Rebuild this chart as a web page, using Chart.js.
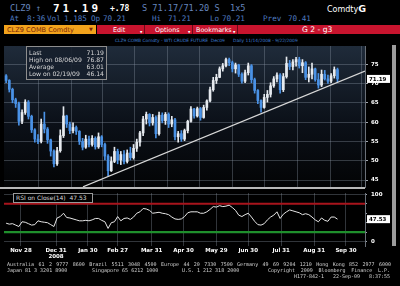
<!DOCTYPE html>
<html>
<head>
<meta charset="utf-8">
<title>CLZ9 COMB Comdty</title>
<script src="https://cdn.jsdelivr.net/npm/chart.js@4.4.1/dist/chart.umd.min.js"></script>
<style>
  html, body { margin: 0; padding: 0; background: #000; }
  body { width: 400px; height: 286px; position: relative; overflow: hidden; font-family: "DejaVu Sans", sans-serif; }
  .t { position: absolute; white-space: pre; line-height: 1; }
  .mono { font-family: "DejaVu Sans Mono", monospace; }
  .hd { color: #6585bd; font-size: 8.6px; top: 4px; }
  .hd2 { color: #4f7cc0; font-size: 7.6px; top: 14.5px; }
  canvas { position: absolute; left: 0; }
  #tab { position: absolute; left: 4px; top: 25px; width: 92px; height: 9px; background: #f2a31c; }
  #bar { position: absolute; left: 97px; top: 25px; width: 303px; height: 9px; background: #c8142e; }
  .btn { color: #fff; font-size: 6.4px; top: 26.5px; }
  .sep { position: absolute; top: 25px; width: 1px; height: 9px; background: #6a0a18; }
  .sub { color: #3f7fd2; font-size: 4.4px; top: 39px; }
  #stats { position: absolute; left: 26px; top: 46px; width: 79px; height: 32px; border: 1px solid #8e8e8e; background: rgba(22,31,44,0.9); }
  #stats div { position: absolute; left: 2px; right: 2px; height: 7px; font-size: 6.1px; color: #d8d8d8; line-height: 7px; }
  #stats span { position: absolute; right: 0; }
  #rsiBox { position: absolute; left: 13px; top: 193px; width: 76px; height: 8px; border: 1px solid #9a9a9a; background: #000; color: #d8d8d8; font-size: 6px; line-height: 8px; padding-left: 2px; white-space: pre; }
  #frame { position: absolute; left: 392px; top: 45px; width: 4px; height: 201px; background: #9c9c9c; }
  #split { position: absolute; left: 0; top: 187px; width: 365px; height: 2px; background: #b9b9b9; }
  .ft { color: #d2d2d2; font-size: 5px; }
  .just { white-space: normal; text-align: justify; text-align-last: justify; }
</style>
</head>
<body>

<div class="t mono hd" style="left:10px">CLZ9 ↑</div>
<div class="t mono" style="left:53px;top:3px;font-size:11px;font-weight:bold;letter-spacing:3px;color:#fff">71.19</div>
<div class="t mono" style="left:110px;top:4.5px;font-size:8px;font-weight:bold;color:#fff">+.78</div>
<div class="t mono hd" style="left:142px">S 71.17/71.20 S  1x5</div>
<div class="t" style="left:327px;top:4px;font-size:8px;color:#fff">Comdty<b style="font-size:9.5px">G</b></div>

<div class="t mono hd2" style="left:10px">At</div>
<div class="t mono hd2" style="left:27px">8:36</div>
<div class="t mono hd2" style="left:47px">Vol</div>
<div class="t mono hd2" style="left:64px">1,185</div>
<div class="t mono hd2" style="left:91px">Op</div>
<div class="t mono hd2" style="left:103px">70.21</div>
<div class="t mono hd2" style="left:152px">Hi</div>
<div class="t mono hd2" style="left:168px">71.21</div>
<div class="t mono hd2" style="left:210px">Lo</div>
<div class="t mono hd2" style="left:222px">70.21</div>
<div class="t mono hd2" style="left:263px">Prev</div>
<div class="t mono hd2" style="left:288px">70.41</div>

<div id="tab"></div>
<div id="bar"></div>
<div class="t" style="left:7px;top:26.5px;font-size:6.6px;color:#7a2608">CLZ9 COMB Comdty</div>
<div class="t" style="left:89px;top:27px;font-size:5px;color:#7a2608">▼</div>
<div class="sep" style="left:144px"></div>
<div class="sep" style="left:192px"></div>
<div class="sep" style="left:237px"></div>
<div class="t btn" style="left:113px">Edit</div>
<div class="t btn" style="left:155px">Options</div>
<div class="t btn" style="left:196px">Bookmarks</div>
<div class="t" style="left:140px;top:31px;font-size:3px;color:#fff">▼</div>
<div class="t" style="left:188px;top:31px;font-size:3px;color:#fff">▼</div>
<div class="t" style="left:233px;top:31px;font-size:3px;color:#fff">▼</div>
<div class="t" style="left:302px;top:26px;font-size:7.6px;color:#fff">G 2 - g3</div>

<div class="t sub" style="left:115px">CLZ9 COMB Comdty - WTI CRUDE FUTURE  Dec09</div>
<div class="t sub" style="left:233px">Daily 11/14/2008 - 9/22/2009</div>

<canvas id="priceChart" width="400" height="157" style="top:38px"></canvas>
<canvas id="rsiChart" width="400" height="75" style="top:185px"></canvas>

<div id="split"></div>
<div id="frame"></div>

<div id="stats">
  <div style="top:1.5px">Last<span>71.19</span></div>
  <div style="top:8.8px">High on 08/06/09<span>76.87</span></div>
  <div style="top:16.1px">Average<span>63.01</span></div>
  <div style="top:23.4px">Low on 02/19/09<span>46.14</span></div>
</div>
<div id="rsiBox">RSI on Close(14)  47.53</div>

<div class="t mono ft just" style="left:7px;top:262px;width:384px">Australia 61 2 9777 8600 Brazil 5511 3048 4500 Europe 44 20 7330 7500 Germany 49 69 9204 1210 Hong Kong 852 2977 6000</div>
<div class="t mono ft" style="left:7px;top:267.5px">Japan 81 3 3201 8900</div>
<div class="t mono ft" style="left:92px;top:267.5px">Singapore 65 6212 1000</div>
<div class="t mono ft" style="left:182px;top:267.5px">U.S. 1 212 318 2000</div>
<div class="t mono ft just" style="left:268px;top:267.5px;width:122px">Copyright 2009 Bloomberg Finance L.P.</div>
<div class="t mono ft just" style="left:294px;top:273.5px;width:96px">H177-842-1 22-Sep-09  8:37:55</div>

<script>
// day numbers count from 1 Nov 2008, one candle every 3 days starting 14 Nov 2008
const candleStart = 13;
const candleStep = 3;

const firstOpen = 72.0;
const closes = [70.8, 68.5, 65.8, 64.8, 60.2, 62.5, 65.2, 61.5, 58.0, 55.6,
  55.0, 59.5, 58.2, 55.4, 52.5, 49.2, 52.6, 56.5, 61.6, 59.5,
  57.8, 58.6, 57.6, 55.0, 53.5, 55.6, 54.2, 55.8, 53.6, 56.2,
  54.2, 51.2, 47.4, 49.8, 52.4, 50.2, 51.6, 49.8, 52.0, 50.8,
  53.2, 54.8, 57.2, 60.8, 62.0, 59.8, 61.2, 57.0, 61.8, 60.4,
  62.0, 59.5, 60.6, 56.2, 57.0, 55.6, 57.8, 60.2, 63.4, 61.6,
  63.5, 61.2, 63.8, 65.5, 68.4, 70.8, 71.6, 73.8, 74.6, 76.2,
  75.4, 73.8, 74.8, 72.4, 70.6, 72.8, 74.6, 71.0, 68.2, 65.6,
  63.8, 66.4, 67.2, 69.4, 71.2, 72.2, 68.4, 71.8, 75.2, 74.4,
  75.6, 76.2, 74.6, 75.4, 71.6, 72.4, 73.8, 71.0, 69.6, 72.4,
  71.2, 70.6, 72.0, 73.6, 71.19];
const highs = [72.3, 71.0, 68.8, 66.2, 65.2, 63.2, 65.8, 65.6, 61.8, 58.3,
  56.8, 60.8, 62.6, 58.6, 55.6, 52.8, 53.5, 58.0, 64.0, 61.8,
  60.0, 59.8, 59.0, 57.8, 55.8, 56.6, 56.4, 56.5, 56.2, 57.2,
  56.5, 54.6, 51.6, 51.0, 53.5, 53.0, 52.4, 52.6, 52.8, 53.5,
  54.2, 55.6, 57.6, 61.5, 62.6, 62.2, 62.0, 61.6, 62.6, 62.4,
  62.5, 62.4, 61.5, 61.0, 57.6, 57.8, 58.2, 60.5, 64.0, 63.6,
  63.9, 63.8, 64.4, 65.8, 69.1, 71.6, 72.4, 74.3, 75.2, 76.6,
  76.6, 75.8, 75.3, 75.0, 72.8, 73.5, 75.3, 74.9, 71.4, 68.4,
  65.8, 67.2, 68.2, 70.2, 71.8, 72.8, 72.6, 72.6, 76.87, 76.0,
  76.2, 76.8, 76.8, 76.2, 75.7, 74.3, 75.3, 74.0, 72.6, 73.5,
  73.4, 72.2, 72.6, 74.3, 74.0];
const lows = [70.2, 67.8, 65.0, 63.8, 59.2, 59.6, 62.0, 60.8, 57.3, 54.8,
  54.4, 54.6, 57.2, 54.5, 51.2, 48.4, 48.8, 52.2, 56.0, 58.6,
  57.0, 57.2, 56.8, 54.2, 52.8, 53.2, 53.6, 53.8, 53.0, 53.2,
  53.6, 50.2, 46.14, 47.2, 49.5, 49.2, 49.0, 49.2, 49.4, 50.2,
  50.4, 52.4, 53.8, 56.5, 59.5, 59.0, 59.2, 55.9, 56.6, 59.8,
  59.4, 58.6, 58.8, 55.4, 54.8, 55.0, 55.2, 57.2, 60.0, 61.0,
  61.3, 60.5, 61.0, 63.1, 65.2, 68.0, 70.0, 71.5, 73.2, 74.3,
  74.6, 73.0, 72.7, 71.8, 70.1, 70.2, 72.2, 70.2, 67.5, 64.8,
  62.6, 63.6, 65.2, 66.5, 69.0, 70.4, 67.5, 67.9, 71.4, 73.6,
  73.5, 74.5, 74.0, 72.8, 71.0, 70.4, 71.2, 70.6, 68.8, 69.2,
  70.9, 70.0, 70.2, 71.4, 70.4];
const rsi14 = [39, 37, 38, 35, 32, 42, 41, 38, 35, 36,
  44, 42, 41, 40, 36, 32, 50, 53, 60, 51,
  50, 48, 46, 44, 44, 45, 44, 46, 49, 49,
  45, 42, 28, 40, 42, 53, 44, 49, 50, 47,
  52, 60, 63, 70, 69, 66, 60, 61, 62, 60,
  59, 57, 52, 48, 47, 48, 53, 61, 63, 63,
  63, 60, 60, 63, 68, 74, 73, 76, 74, 75,
  77, 72, 66, 56, 53, 57, 60, 52, 43, 36,
  35, 38, 46, 52, 56, 63, 49, 58, 63, 67,
  65, 63, 61, 57, 59, 57, 52, 46, 42, 50,
  45, 43, 52, 52, 47.53];

const trendDays = [85.4, 350.9];
const trendPrices = [43.25, 73.24];
const rsiUpper = 80;
const rsiLower = 20;

const tickDays = [27, 60, 90, 118, 150, 180, 211, 241, 272, 303, 333];
const tickLabels = [["Nov 28"], ["Dec 31", "2008"], ["Jan 30"], ["Feb 27"], ["Mar 31"], ["Apr 30"],
  ["May 29"], ["Jun 30"], ["Jul 31"], ["Aug 31"], ["Sep 30"]];
const priceTicks = [45, 50, 55, 60, 65, 70, 75];
const rsiTicks = [0, 10, 20, 30, 40, 50, 60, 70, 80, 90, 100];

const X_MIN = 11, X_MAX = 350.9;
const GRID = "rgba(150,160,175,0.33)";
const tickFont = { family: "DejaVu Sans", size: 5.5, weight: "bold", lineHeight: 1.2 };

const candleDays = closes.map((c, i) => candleStart + i * candleStep);
const opens = closes.map((c, i) => i === 0 ? firstOpen : closes[i - 1]);
const candleColors = closes.map((c, i) => c >= opens[i] ? "#e6eaef" : "#4a92e6");

// fond du panneau
const panelBg = {
    id: "panelBg",
    beforeDraw(chart, args, opts) {
        const { ctx, chartArea: a } = chart;
        let fill = opts.color;
        if (opts.gradient) {
            fill = ctx.createLinearGradient(0, a.top, 0, a.bottom);
            fill.addColorStop(0, "#1f2b3a");
            fill.addColorStop(0.55, "#0b1018");
            fill.addColorStop(1, "#030405");
        }
        ctx.save();
        ctx.fillStyle = fill;
        ctx.fillRect(a.left, a.top, a.width, a.height);
        ctx.restore();
    }
};

// étiquette de la dernière valeur sur l'axe
const lastValue = {
    id: "lastValue",
    afterDraw(chart, args, opts) {
        const { ctx, chartArea: a } = chart;
        const y = chart.scales.y.getPixelForValue(opts.value);
        ctx.save();
        ctx.fillStyle = "#fff";
        ctx.fillRect(a.right + 2, y - 4, 23, 8);
        ctx.fillStyle = "#000";
        ctx.font = "bold 5.5px 'DejaVu Sans'";
        ctx.textBaseline = "middle";
        ctx.fillText(opts.label, a.right + 4, y + 0.5);
        ctx.restore();
    }
};

function xScale(showLabels) {
    return {
        type: "linear",
        min: X_MIN,
        max: X_MAX,
        offset: false,
        afterBuildTicks: axis => { axis.ticks = tickDays.map(v => ({ value: v })); },
        grid: { color: GRID, lineWidth: 1, drawTicks: false },
        border: { display: false },
        ticks: {
            display: showLabels,
            autoSkip: false,
            maxRotation: 0,
            padding: 1,
            color: "#fff",
            font: tickFont,
            callback: (v, i) => tickLabels[i]
        },
        afterFit: axis => { axis.height = showLabels ? 14 : 0; }
    };
}

new Chart(document.getElementById("priceChart"), {
    type: "bar",
    data: {
        datasets: [
            {
                label: "wick",
                data: candleDays.map((d, i) => ({ x: d, y: [lows[i], highs[i]] })),
                backgroundColor: candleColors,
                barThickness: 1,
                grouped: false,
                order: 3
            },
            {
                label: "body",
                data: candleDays.map((d, i) => ({ x: d, y: [opens[i], closes[i]] })),
                backgroundColor: candleColors,
                barThickness: 2,
                minBarLength: 1,
                grouped: false,
                order: 2
            },
            {
                type: "line",
                label: "trend",
                data: trendDays.map((d, i) => ({ x: d, y: trendPrices[i] })),
                borderColor: "#d8d8d8",
                borderWidth: 1.3,
                pointRadius: 0,
                order: 1
            }
        ]
    },
    options: {
        responsive: false,
        animation: false,
        layout: { padding: { top: 8, bottom: 8, left: 4, right: 0 } },
        plugins: {
            legend: { display: false },
            tooltip: { enabled: false },
            panelBg: { gradient: true },
            lastValue: { value: closes[closes.length - 1], label: "71.19" }
        },
        scales: {
            x: xScale(false),
            y: {
                position: "right",
                min: 43.19,
                max: 79.72,
                afterBuildTicks: axis => { axis.ticks = priceTicks.map(v => ({ value: v })); },
                grid: { color: GRID, tickColor: "#a0a6ae", tickLength: 3 },
                border: { display: true, color: "#6a7078" },
                ticks: { color: "#fff", font: tickFont, padding: 3 },
                afterFit: axis => { axis.width = 35; }
            }
        }
    },
    plugins: [panelBg, lastValue]
});

new Chart(document.getElementById("rsiChart"), {
    type: "line",
    data: {
        datasets: [
            {
                label: "RSI on Close(14)",
                data: candleDays.map((d, i) => ({ x: d, y: rsi14[i] })),
                borderColor: "#e6e6e6",
                borderWidth: 1,
                pointRadius: 0,
                tension: 0,
                order: 1
            },
            {
                label: "upper",
                data: [{ x: X_MIN, y: rsiUpper }, { x: X_MAX, y: rsiUpper }],
                borderColor: "#a8141c",
                borderWidth: 2.2,
                pointRadius: 0,
                order: 2
            },
            {
                label: "lower",
                data: [{ x: X_MIN, y: rsiLower }, { x: X_MAX, y: rsiLower }],
                borderColor: "#1f8f2c",
                borderWidth: 2.2,
                pointRadius: 0,
                order: 2
            }
        ]
    },
    options: {
        responsive: false,
        animation: false,
        layout: { padding: { top: 8, bottom: 0, left: 4, right: 0 } },
        plugins: {
            legend: { display: false },
            tooltip: { enabled: false },
            panelBg: { color: "#000" },
            lastValue: { value: rsi14[rsi14.length - 1], label: "47.53" }
        },
        scales: {
            x: xScale(true),
            y: {
                position: "right",
                min: -9.1,
                max: 102.7,
                afterBuildTicks: axis => { axis.ticks = rsiTicks.map(v => ({ value: v })); },
                grid: {
                    color: ctx => (ctx.tick && (ctx.tick.value === 0 || ctx.tick.value === 100)) ? GRID : "rgba(0,0,0,0)",
                    tickColor: "#a0a6ae",
                    tickLength: 2
                },
                border: { display: true, color: "#6a7078" },
                ticks: {
                    color: "#fff",
                    font: tickFont,
                    padding: 4,
                    callback: v => (v === 0 || v === 100) ? String(v) : ""
                },
                afterFit: axis => { axis.width = 35; }
            }
        }
    },
    plugins: [panelBg, lastValue]
});
</script>
</body>
</html>
